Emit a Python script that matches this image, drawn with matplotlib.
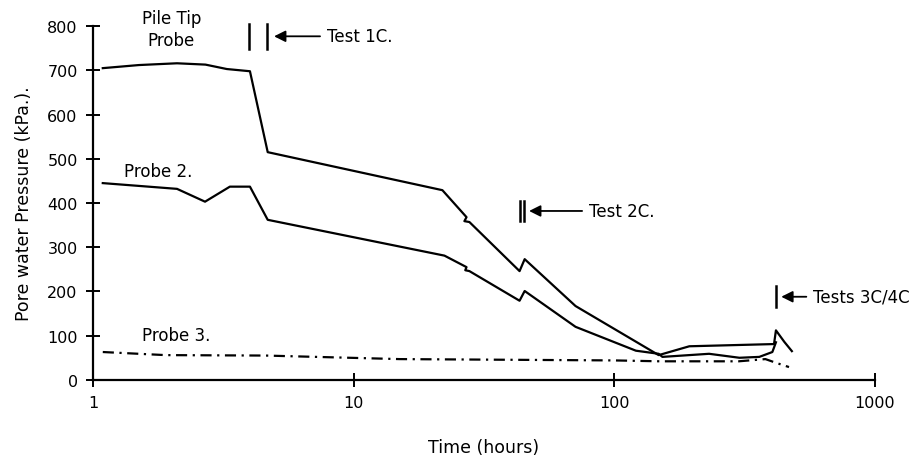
import matplotlib.pyplot as plt
from matplotlib.ticker import FixedLocator, NullLocator

# Pile tip probe
tip_t = [1.09, 1.5, 2.1, 2.7, 3.26, 4.0, 4.68, 21.9, 27.1, 26.6, 27.8, 43.3, 45.3, 71, 148, 194, 410, 417, 449, 480]
tip_p = [705, 712, 716, 713, 703, 698, 515, 429, 368, 359, 357, 246, 273, 167, 56, 76, 81, 112, 86, 65]

# Probe 2
p2_t = [1.09, 2.1, 2.69, 3.35, 4.0, 4.68, 22.3, 27.1, 26.8, 27.8, 43.3, 45.3, 71, 121, 148, 153, 231, 302, 360, 404, 417]
p2_p = [445, 432, 403, 437, 437, 362, 281, 255, 248, 246, 179, 201, 120, 66, 59, 52, 59, 50, 52, 63, 85]

# Probe 3
p3_t = [1.09, 1.9, 4.6, 15, 100, 150, 300, 380, 420, 468]
p3_p = [63, 56, 55, 47, 44, 42, 42, 47, 38, 29]

# test markers: (bar times, bar low, bar high, arrow tip, text x, text y, label)
tests = [
    ([3.96, 4.64], 748, 805, 4.95, 7.9, 777, 'Test 1C.'),
    ([43.3, 45.0], 359, 405, 47.1, 80, 382, 'Test 2C.'),
    ([417], 165, 212, 437, 580, 188, 'Tests 3C/4C'),
]

plt.rcParams['font.family'] = 'DejaVu Sans'
fig = plt.figure(figsize=(9.21, 4.60), dpi=100)
ax = fig.add_axes([0.101, 0.172, 0.849, 0.769])

ax.plot(tip_t, tip_p, color='black', lw=1.6)
ax.plot(p2_t, p2_p, color='black', lw=1.6)
ax.plot(p3_t, p3_p, color='black', lw=1.6, linestyle=(0, (5, 2.5, 1, 2.5)))

for bars, lo, hi, tip, tx, ty, lab in tests:
    for b in bars:
        ax.plot([b, b], [lo, hi], color='black', lw=1.8)
    ax.annotate(lab, xy=(tip, ty), xytext=(tx, ty), fontsize=12, va='center', ha='left',
                arrowprops=dict(arrowstyle='-|>', color='black', lw=1.3,
                                mutation_scale=17, shrinkA=3, shrinkB=0))

ax.text(2.0, 793, 'Pile Tip\nProbe', ha='center', va='center', fontsize=12, linespacing=1.25)
ax.text(1.31, 472, 'Probe 2.', ha='left', va='center', fontsize=12)
ax.text(1.54, 102, 'Probe 3.', ha='left', va='center', fontsize=12)

ax.set_xscale('log')
ax.set_xlim(1, 1000)
ax.set_ylim(0, 800)
ax.xaxis.set_major_locator(FixedLocator([1, 10, 100, 1000]))
ax.xaxis.set_minor_locator(NullLocator())
ax.set_xticklabels(['1', '10', '100', '1000'])
ax.set_yticks(range(0, 801, 100))
ax.tick_params(direction='inout', length=10, width=1.4, labelsize=11.5, pad=6)

for s in ['top', 'right']:
    ax.spines[s].set_visible(False)
for s in ['left', 'bottom']:
    ax.spines[s].set_linewidth(1.6)
for ln in ax.lines:
    ln.set_clip_on(False)

ax.set_xlabel('Time (hours)', fontsize=12.5, labelpad=20)
ax.set_ylabel('Pore water Pressure (kPa.).', fontsize=12.5, labelpad=10)

fig.savefig('out.png', dpi=100)
